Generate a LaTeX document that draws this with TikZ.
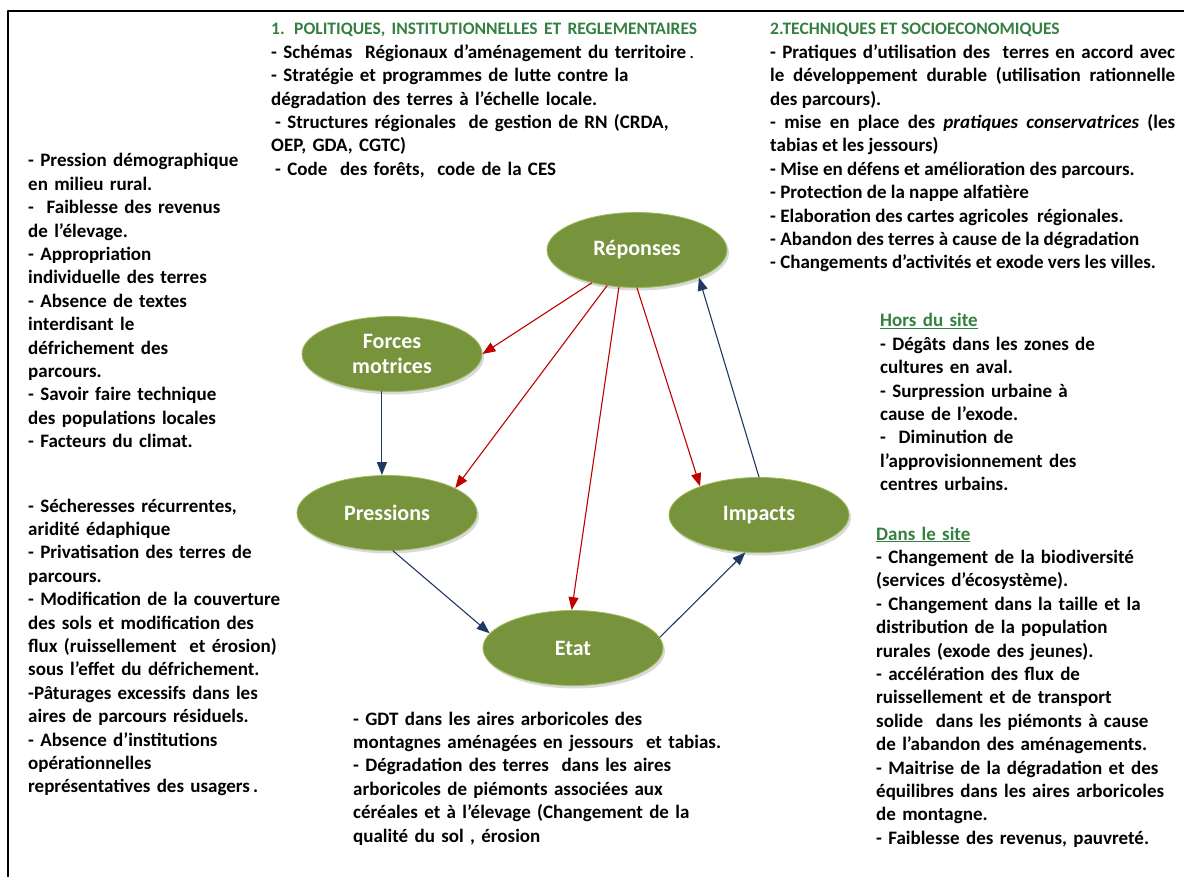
\documentclass[tikz,border=0pt]{standalone}
\usepackage{fontspec}
\setmainfont{Carlito}
\usetikzlibrary{arrows.meta,shapes.geometric,shadows}
\definecolor{olive}{RGB}{119,147,60}
\definecolor{oliveline}{RGB}{155,187,89}
\definecolor{titlegreen}{RGB}{52,128,64}
\definecolor{redarrow}{RGB}{192,0,0}
\definecolor{navyarrow}{RGB}{31,56,100}
\newcommand{\entete}[1]{{\fontsize{17.5}{23.4}\selectfont\color{titlegreen}#1}}

\begin{document}
\begin{tikzpicture}[x=1pt,y=-1pt,line cap=round,line join=round,>={Triangle[length=13pt,width=10pt]},
  every node/.style={inner sep=0pt},
  dpsir/.style={ellipse,fill=olive,draw=oliveline,line width=0.8pt,minimum width=180pt,minimum height=75pt,
    text=white,font=\fontsize{22}{25}\selectfont\bfseries,align=center,
    drop shadow={shadow xshift=2pt,shadow yshift=-3pt,opacity=0.3}},
  liste/.style={anchor=base west,align=left,text width=480pt,font=\fontsize{19}{23.4}\selectfont\bfseries},
  rouge/.style={->,draw=redarrow,line width=1.1pt},
  bleu/.style={->,draw=navyarrow,line width=1.1pt}]
  \useasboundingbox (0,0) rectangle (1184,877);
  \draw[line width=2.5pt,line cap=butt] (8,877) -- (8,11) -- (1184,11);

  \node[dpsir] (rep) at (637,250) {Réponses};
  \node[dpsir] (fm) at (392,354) {Forces\\motrices};
  \node[dpsir] (pres) at (387,513) {Pressions};
  \node[dpsir] (imp) at (759,515) {Impacts};
  \node[dpsir] (etat) at (573,648) {Etat};

  \draw[rouge] (rep.216) -- (fm.east);
  \draw[rouge] (rep.230) -- (pres.20);
  \draw[rouge] (rep.244) -- (etat.92);
  \draw[rouge] (rep.270) -- (imp.154);
  \draw[bleu] (fm.255) -- (fm.255 |- pres.north);
  \draw[bleu] (pres.279) -- (etat.170);
  \draw[bleu] (etat.7) -- (imp.250);
  \draw[bleu] (imp.north) -- (rep.336);

  \node[liste] (pol) at (271,35) {\entete{1. POLITIQUES, INSTITUTIONNELLES ET REGLEMENTAIRES}\\
    - Schémas\ \ Régionaux d’aménagement du territoire\textmd{\,.}\\
    - Stratégie et programmes de lutte contre la\\
    dégradation des terres à l’échelle locale.\\
    \hspace{4pt}- Structures régionales\ \ de gestion de RN (CRDA,\\
    OEP, GDA, CGTC)\\
    \hspace{4pt}- Code\ \ des forêts,\ \ code de la CES};
  \node[liste,text width=405pt,align=justify] (tech) at (770,35) {\entete{2.TECHNIQUES ET SOCIOECONOMIQUES}\\
    - Pratiques d’utilisation des\ \ terres en accord avec\linebreak
    le développement durable (utilisation rationnelle\linebreak
    des parcours).\\
    - mise en place des \textit{pratiques conservatrices} (les\linebreak
    tabias et les jessours)\\
    - Mise en défens et amélioration des parcours.\\
    - Protection de la nappe alfatière\\
    - Elaboration des cartes agricoles\ \ régionales.\\
    - Abandon des terres à cause de la dégradation\\
    - Changements d’activités et exode vers les villes.};
  \node[liste,text width=300pt] (forcestxt) at (28,167) {- Pression démographique\\
    en milieu rural.\\
    -\ \ Faiblesse des revenus\\
    de l’élevage.\\
    - Appropriation\\
    individuelle des terres\\
    - Absence de textes\\
    interdisant le\\
    défrichement des\\
    parcours.\\
    - Savoir faire technique\\
    des populations locales\\
    - Facteurs du climat.};
  \node[liste,text width=300pt] (presstxt) at (28,512) {- Sécheresses récurrentes,\\
    aridité édaphique\\
    - Privatisation des terres de\\
    parcours.\\
    - Modification de la couverture\\
    des sols et modification des\\
    flux (ruissellement\ \ et érosion)\\
    sous l’effet du défrichement.\\
    -Pâturages excessifs dans les\\
    aires de parcours résiduels.\\
    - Absence d’institutions\\
    opérationnelles\\
    représentatives des usagers\,.};
  \node[liste,text width=420pt] (etattxt) at (353,725) {- GDT dans les aires arboricoles des\\
    montagnes aménagées en jessours\ \ et tabias.\\
    - Dégradation des terres\ \ dans les aires\\
    arboricoles de piémonts associées aux\\
    céréales et à l’élevage (Changement de la\\
    qualité du sol , érosion};
  \node[liste,text width=300pt] (horstxt) at (880,327) {{\color{titlegreen}\underline{Hors du site}}\\
    - Dégâts dans les zones de\\
    cultures en aval.\\
    - Surpression urbaine à\\
    cause de l’exode.\\
    -\ \ Diminution de\\
    l’approvisionnement des\\
    centres urbains.};
  \node[liste,text width=305pt] (danstxt) at (876,540) {{\color{titlegreen}\underline{Dans le site}}\\
    - Changement de la biodiversité\\
    (services d’écosystème).\\
    - Changement dans la taille et la\\
    distribution de la population\\
    rurales (exode des jeunes).\\
    - accélération des flux de\\
    ruissellement et de transport\\
    solide\ \ dans les piémonts à cause\\
    de l’abandon des aménagements.\\
    - Maitrise de la dégradation et des\\
    équilibres dans les aires arboricoles\\
    de montagne.\\
    - Faiblesse des revenus, pauvreté.};
\end{tikzpicture}
\end{document}
